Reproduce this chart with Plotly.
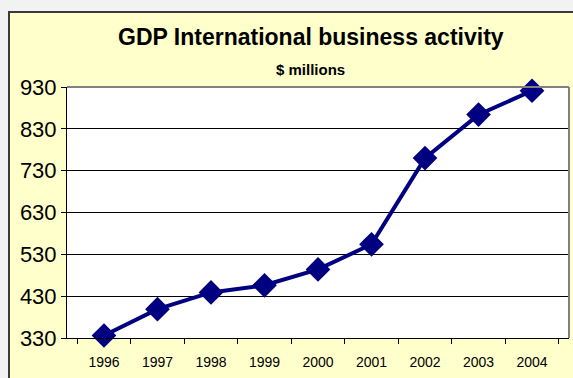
import plotly.graph_objects as go

years = ["1996", "1997", "1998", "1999", "2000", "2001", "2002", "2003", "2004"]
gdp = [336, 399, 439, 456, 494, 554, 760, 864, 921]
y_ticks = [330, 430, 530, 630, 730, 830, 930]

W, H = 573, 378
L, R, T, B = 67, 4, 87, 40
pw, ph = W - L - R, H - T - B

def px_x(p):
    return (p - L) / pw

def px_y(p):
    return 1 - (p - T) / ph

fig = go.Figure()
fig.add_trace(go.Scatter(
    x=years, y=gdp, mode="lines+markers",
    line=dict(color="#000080", width=4),
    marker=dict(symbol="diamond", size=19, color="#000080"),
    cliponaxis=False, showlegend=False,
))

shapes = [
    dict(type="rect", xref="paper", yref="paper", layer="below",
         x0=px_x(9), x1=px_x(W + 20), y0=px_y(H + 20), y1=px_y(12),
         fillcolor="#FFFFCC", line=dict(color="#3a3a3a", width=2)),
    dict(type="rect", xref="paper", yref="paper", layer="below",
         x0=0, x1=1, y0=0, y1=1, fillcolor="white", line=dict(width=0)),
    dict(type="line", xref="paper", yref="paper", x0=0, x1=1, y0=1, y1=1,
         line=dict(color="#808080", width=2)),
    dict(type="line", xref="paper", yref="paper", x0=1, x1=1, y0=0, y1=1,
         line=dict(color="#808080", width=2)),
]

fig.update_layout(
    width=W, height=H,
    margin=dict(l=L, r=R, t=T, b=B),
    paper_bgcolor="#F2F2F2",
    plot_bgcolor="white",
    shapes=shapes,
    font=dict(family="Liberation Sans, Arial, sans-serif", color="black"),
    annotations=[
        dict(text="<b>GDP International business activity</b>", xref="paper", yref="paper",
             x=px_x(311), y=px_y(37), xanchor="center", yanchor="middle",
             showarrow=False, font=dict(size=23, color="black")),
        dict(text="<b>$ millions</b>", xref="paper", yref="paper",
             x=px_x(310), y=px_y(69), xanchor="center", yanchor="middle",
             showarrow=False, font=dict(size=15, color="black")),
    ],
)

fig.update_xaxes(
    type="category", tickson="boundaries", ticks="outside", ticklen=5,
    tickcolor="black", tickwidth=1, showline=True, linecolor="black", linewidth=1,
    showgrid=False, tickfont=dict(size=14, color="black"), fixedrange=True,
    ticklabelstandoff=11,
)
fig.update_yaxes(
    range=[330, 930], tickvals=y_ticks, ticks="outside", ticklen=5,
    tickcolor="black", tickwidth=1, showline=True, linecolor="black", linewidth=1,
    showgrid=True, gridcolor="black", gridwidth=1, zeroline=False,
    tickfont=dict(size=22, color="black"), fixedrange=True,
)

fig.write_html("out.html")
